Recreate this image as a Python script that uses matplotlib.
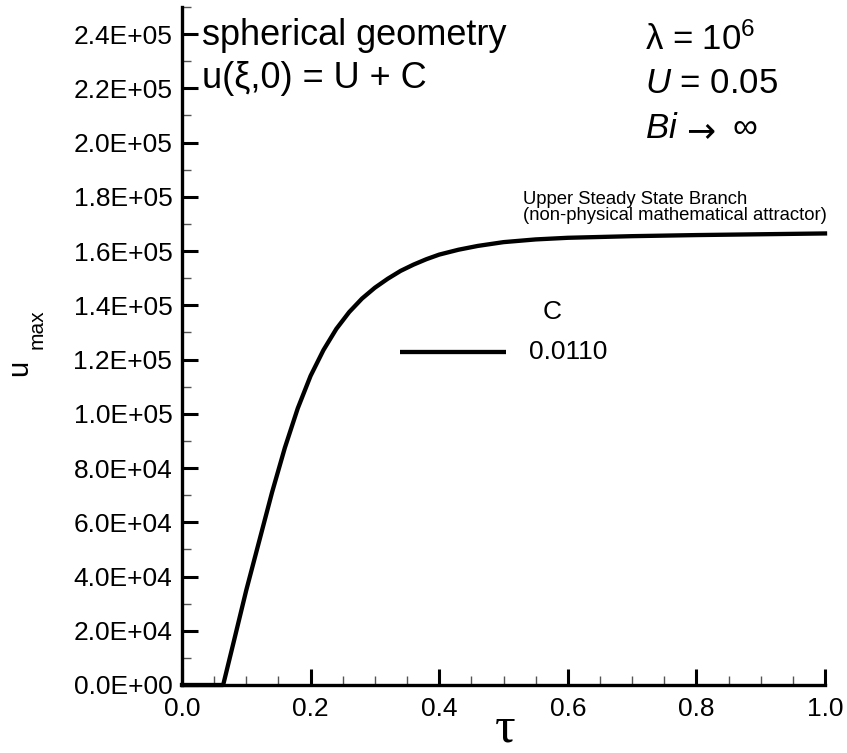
import numpy as np
import matplotlib
matplotlib.use('Agg')
import matplotlib.pyplot as plt
from matplotlib.ticker import MultipleLocator, FuncFormatter

plt.rcParams['font.family'] = ['Liberation Sans', 'DejaVu Sans']
plt.rcParams['mathtext.fontset'] = 'custom'
plt.rcParams['mathtext.rm'] = 'Liberation Sans'
plt.rcParams['mathtext.it'] = 'Liberation Sans:italic'
plt.rcParams['mathtext.default'] = 'regular'

# --- data ---
tau = [0.0, 0.064, 0.08, 0.10, 0.12, 0.14, 0.16, 0.18, 0.20, 0.22, 0.24,
       0.26, 0.28, 0.30, 0.32, 0.34, 0.36, 0.38, 0.40, 0.43, 0.46, 0.50,
       0.55, 0.60, 0.70, 0.80, 0.90, 1.0]
u_max = [0, 0, 15500, 35000, 53000, 71000, 87500, 102000, 114000, 123500, 131300,
         137500, 142500, 146500, 149800, 152700, 155000, 157000, 158700, 160500,
         161900, 163300, 164300, 164900, 165500, 165900, 166200, 166500]
c_label = '0.0110'

x_ticks = [0.0, 0.2, 0.4, 0.6, 0.8, 1.0]
y_ticks = np.arange(0, 2.5e5, 2e4)

fig = plt.figure(figsize=(8.47, 7.53), dpi=100)
ax = fig.add_axes([182 / 847, 68 / 753, 643 / 847, 678 / 753])

ax.plot(tau, u_max, color='black', lw=3.1, solid_joinstyle='round', clip_on=False)

ax.set_xlim(0, 1.0)
ax.set_ylim(0, 2.5e5)
ax.set_xticks(x_ticks)
ax.set_yticks(y_ticks)
ax.xaxis.set_minor_locator(MultipleLocator(0.05))
ax.yaxis.set_minor_locator(MultipleLocator(1e4))
ax.xaxis.set_major_formatter(FuncFormatter(lambda v, p: f'{v:.1f}'))
ax.yaxis.set_major_formatter(FuncFormatter(lambda v, p: f'{v:.1E}'))

for s in ['top', 'right']:
    ax.spines[s].set_visible(False)
for s in ['left', 'bottom']:
    ax.spines[s].set_linewidth(2.4)

ax.tick_params(which='major', direction='in', length=11.5, width=2.2, labelsize=19)
ax.tick_params(axis='y', which='major', pad=7)
ax.tick_params(axis='x', which='major', pad=9)
ax.tick_params(which='minor', direction='in', length=6.5, width=1.0, color='#555555')

# text blocks
ax.text(0.031, 0.944, 'spherical geometry', transform=ax.transAxes, fontsize=26)
ax.text(0.031, 0.880, 'u(ξ,0) = U + C', transform=ax.transAxes, fontsize=26)
ax.text(0.72, 0.937, 'λ = 10$^{6}$', transform=ax.transAxes, fontsize=25)
ax.text(0.72, 0.873, '$\\mathit{U}$ = 0.05', transform=ax.transAxes, fontsize=25)
ax.text(0.72, 0.807, '$\\mathit{Bi}$', transform=ax.transAxes, fontsize=25)
ax.text((686 - 182) / 643, 0.803, '→', transform=ax.transAxes, fontsize=25,
        family='DejaVu Sans')
ax.text((732 - 182) / 643, 0.807, '∞', transform=ax.transAxes, fontsize=25)

ax.text((523 - 182) / 643, (685 - 191) / 678,
        'Upper Steady State Branch\n(non-physical mathematical attractor)',
        transform=ax.transAxes, fontsize=13.3, va='top', linespacing=0.9)

# legend drawn by hand
ax.text((552 - 182) / 643, (685 - 312) / 678, 'C', transform=ax.transAxes,
        fontsize=19, ha='center', va='center')
ax.plot([(400 - 182) / 643, (506 - 182) / 643], [(685 - 352) / 678] * 2,
        transform=ax.transAxes, color='black', lw=3.1, solid_capstyle='butt')
ax.text((529 - 182) / 643, (685 - 352) / 678, c_label, transform=ax.transAxes,
        fontsize=19, ha='left', va='center')

# axis labels
fig.text(27 / 847, 1 - 376 / 753, 'u', rotation=90, rotation_mode='anchor',
         fontsize=21, ha='left', va='baseline')
fig.text(43 / 847, 1 - 349 / 753, 'max', rotation=90, rotation_mode='anchor',
         fontsize=15, ha='left', va='baseline')
fig.text(505 / 847, 1 - 752 / 753, 'τ', fontsize=37, family='Liberation Serif',
         ha='center', va='bottom')

fig.savefig('out.png', dpi=100)
